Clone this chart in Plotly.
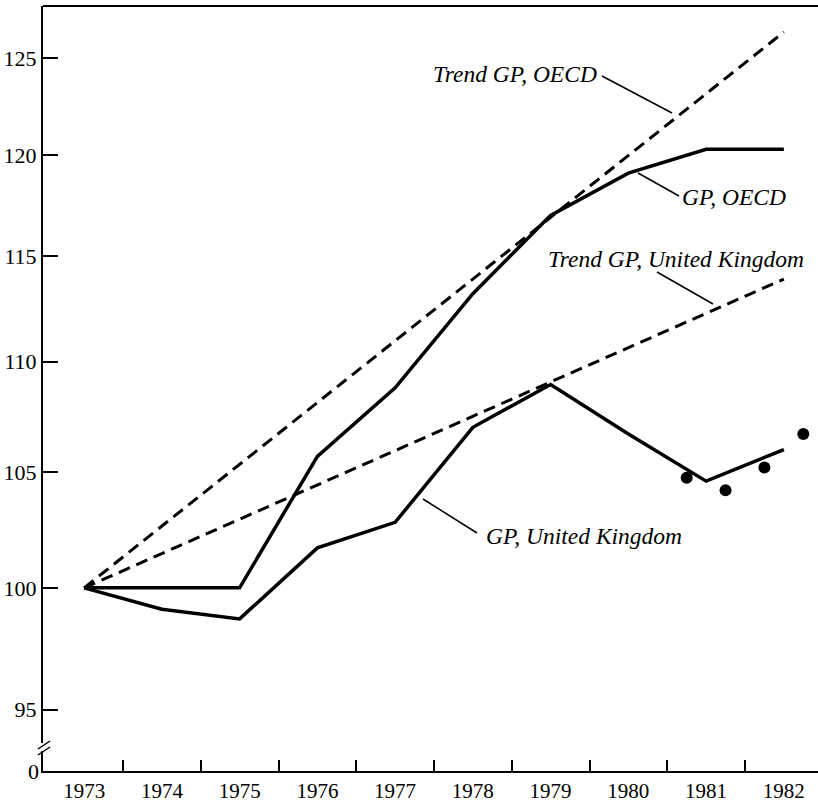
import plotly.graph_objects as go

# ---- data ----
years = [1973, 1974, 1975, 1976, 1977, 1978, 1979, 1980, 1981, 1982]
gp_oecd = [100.0, 100.0, 100.0, 105.7, 108.8, 113.2, 117.0, 119.1, 120.3, 120.3]
gp_uk = [100.0, 99.1, 98.7, 101.7, 102.8, 107.0, 108.95, 106.7, 104.6, 106.0]
trend_years = [1973, 1982]
trend_oecd = [100.0, 126.4]
trend_uk = [100.0, 113.9]
uk_quarter_x = [1980.75, 1981.25, 1981.75, 1982.25]
uk_quarter_y = [104.75, 104.2, 105.2, 106.7]
ytick_vals = [95, 100, 105, 110, 115, 120, 125]
xtick_labels = [str(y) for y in years]
year_bounds = [1973.5, 1974.5, 1975.5, 1976.5, 1977.5, 1978.5, 1979.5, 1980.5, 1981.5]

W, H = 818, 802
L, R, T, B = 43, 0, 6, 31
PW, PH = W - L - R, H - T - B

def px(x):
    return (x - L) / PW

def py(y):
    return (H - B - y) / PH

FONT = "Liberation Serif"
BLACK = "#000000"

fig = go.Figure()
fig.add_trace(go.Scatter(x=trend_years, y=trend_oecd, mode="lines",
                         line=dict(color=BLACK, width=3, dash="12px,7px"), hoverinfo="skip"))
fig.add_trace(go.Scatter(x=trend_years, y=trend_uk, mode="lines",
                         line=dict(color=BLACK, width=3, dash="12px,7px"), hoverinfo="skip"))
fig.add_trace(go.Scatter(x=years, y=gp_oecd, mode="lines",
                         line=dict(color=BLACK, width=3.5)))
fig.add_trace(go.Scatter(x=years, y=gp_uk, mode="lines",
                         line=dict(color=BLACK, width=3.5)))
fig.add_trace(go.Scatter(x=uk_quarter_x, y=uk_quarter_y, mode="markers",
                         marker=dict(color=BLACK, size=12), cliponaxis=False))

fig.update_xaxes(range=[1972.471, 1982.439], tickmode="array", tickvals=years,
                 ticktext=xtick_labels, ticks="", showgrid=False, zeroline=False,
                 showline=True, linecolor=BLACK, linewidth=2,
                 tickfont=dict(family=FONT, size=21, color=BLACK),
                 minor=dict(tickmode="array", tickvals=year_bounds, ticks="inside",
                            ticklen=11, tickwidth=2, tickcolor=BLACK, showgrid=False))
fig.update_yaxes(type="log", range=[1.966476, 2.106506], tickmode="array",
                 tickvals=ytick_vals, ticktext=[str(v) for v in ytick_vals],
                 ticks="inside", ticklen=15, tickwidth=2, tickcolor=BLACK,
                 showgrid=False, zeroline=False, showline=True, linecolor=BLACK,
                 linewidth=2, tickfont=dict(family=FONT, size=22, color=BLACK))

shapes = [
    # top frame line
    dict(type="line", xref="paper", yref="paper", x0=0, x1=1, y0=1, y1=1,
         line=dict(color=BLACK, width=2)),
    # axis break
    dict(type="rect", xref="paper", yref="paper", x0=px(36), x1=px(52), y0=py(751), y1=py(743),
         fillcolor="white", line=dict(width=0), layer="above"),
    dict(type="line", xref="paper", yref="paper", x0=px(38), x1=px(50), y0=py(749), y1=py(741),
         line=dict(color=BLACK, width=1.5), layer="above"),
    dict(type="line", xref="paper", yref="paper", x0=px(38), x1=px(50), y0=py(755), y1=py(747),
         line=dict(color=BLACK, width=1.5), layer="above"),
    # leader lines
    dict(type="line", xref="paper", yref="paper", x0=px(602), x1=px(672), y0=py(76), y1=py(113),
         line=dict(color=BLACK, width=1.5)),
    dict(type="line", xref="paper", yref="paper", x0=px(638), x1=px(679), y0=py(173), y1=py(196),
         line=dict(color=BLACK, width=1.5)),
    dict(type="line", xref="paper", yref="paper", x0=px(657), x1=px(713), y0=py(272), y1=py(304),
         line=dict(color=BLACK, width=1.5)),
    dict(type="line", xref="paper", yref="paper", x0=px(423), x1=px(477), y0=py(499), y1=py(533),
         line=dict(color=BLACK, width=1.5)),
]

def ann(text, x, y, xanchor):
    return dict(text=text, xref="paper", yref="paper", x=px(x), y=py(y), xanchor=xanchor,
                yanchor="middle", showarrow=False,
                font=dict(family=FONT, size=23.5, color=BLACK, style="italic"))

annotations = [
    ann("Trend GP, OECD", 599, 74, "right"),
    ann("GP, OECD", 680, 197, "left"),
    ann("Trend GP, United Kingdom", 546, 259, "left"),
    ann("GP, United Kingdom", 484, 536, "left"),
    dict(text="0", xref="paper", yref="paper", x=px(41), y=0, xanchor="right", yanchor="middle",
         showarrow=False, font=dict(family=FONT, size=22, color=BLACK)),
]

fig.update_layout(width=W, height=H, margin=dict(l=L, r=R, t=T, b=B),
                  paper_bgcolor="white", plot_bgcolor="white", showlegend=False,
                  shapes=shapes, annotations=annotations)

fig.write_html("out.html", config={"displayModeBar": False},
               post_script="document.body.style.margin='0';document.body.style.overflow='hidden';")
